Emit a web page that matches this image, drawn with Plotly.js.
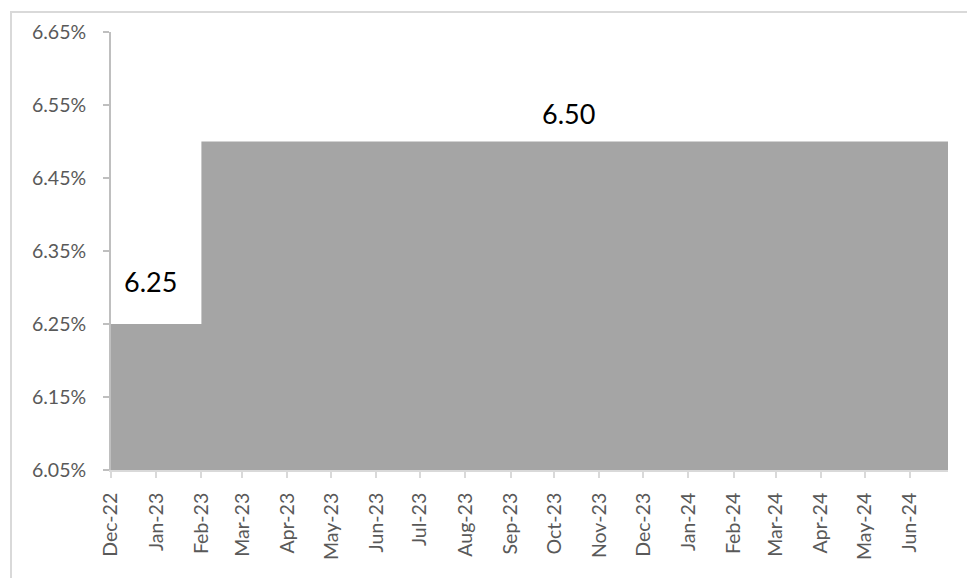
<!DOCTYPE html>
<html>
<head>
<meta charset="utf-8">
<script src="https://cdn.plot.ly/plotly-3.0.1.min.js"></script>
<style>
  html, body { margin: 0; padding: 0; background: #fff; }
  #wrap { position: relative; width: 967px; height: 578px; overflow: hidden; }
  #frame { position: absolute; left: 10px; top: 11px; width: 1000px; height: 1000px;
           border-top: 2px solid #d9d9d9; border-left: 2px solid #d9d9d9; }
  #chart { position: absolute; left: 0; top: 0; width: 967px; height: 578px; }
</style>
</head>
<body>
<div id="wrap">
  <div id="frame"></div>
  <div id="chart"></div>
</div>
<script>
// Repo rate (%) — step dates and values
const dates = ['2022-12-01', '2023-02-01', '2024-06-27'];
const rates = [6.25, 6.50, 6.50];
const labelTexts = ['6.25', '6.50'];
const yTicks = [6.05, 6.15, 6.25, 6.35, 6.45, 6.55, 6.65];

const trace = {
  x: dates,
  y: rates,
  type: 'scatter',
  mode: 'lines',
  line: { shape: 'hv', width: 0, color: '#A5A5A5' },
  fill: 'tozeroy',
  fillcolor: '#A5A5A5',
  hoverinfo: 'skip'
};

const tickFont = { family: 'Lato, "Liberation Sans", sans-serif', size: 19.5, color: '#595959' };
const labelFont = { family: 'Lato, "Liberation Sans", sans-serif', size: 27, color: '#000000' };

const layout = {
  width: 967, height: 578,
  margin: { l: 111, r: 19, t: 32, b: 108 },
  paper_bgcolor: 'rgba(0,0,0,0)',
  plot_bgcolor: 'rgba(0,0,0,0)',
  showlegend: false,
  xaxis: {
    type: 'date',
    range: [dates[0], dates[dates.length - 1]],
    tick0: dates[0],
    dtick: 'M1',
    tickformat: '%b-%y',
    tickangle: -90,
    ticks: 'outside',
    ticklen: 6,
    tickcolor: '#d9d9d9',
    tickwidth: 2,
    ticklabelstandoff: 7,
    showline: true,
    linecolor: '#d9d9d9',
    linewidth: 2,
    showgrid: false,
    zeroline: false,
    tickfont: tickFont,
    fixedrange: true
  },
  yaxis: {
    range: [yTicks[0], yTicks[yTicks.length - 1]],
    tickvals: yTicks,
    ticktext: yTicks.map(v => v.toFixed(2) + '%'),
    ticks: 'outside',
    ticklen: 6,
    tickcolor: '#bfbfbf',
    tickwidth: 2,
    ticklabelstandoff: 13,
    showline: true,
    linecolor: '#bfbfbf',
    linewidth: 2,
    showgrid: false,
    zeroline: false,
    tickfont: tickFont,
    fixedrange: true
  },
  annotations: [
    { xref: 'paper', yref: 'paper', x: 0.0466, y: 0.4315, text: labelTexts[0],
      showarrow: false, xanchor: 'center', yanchor: 'middle', font: labelFont },
    { xref: 'paper', yref: 'paper', x: 0.547, y: 0.815, text: labelTexts[1],
      showarrow: false, xanchor: 'center', yanchor: 'middle', font: labelFont }
  ]
};

Plotly.newPlot('chart', [trace], layout, { displayModeBar: false, staticPlot: true });
</script>
</body>
</html>
